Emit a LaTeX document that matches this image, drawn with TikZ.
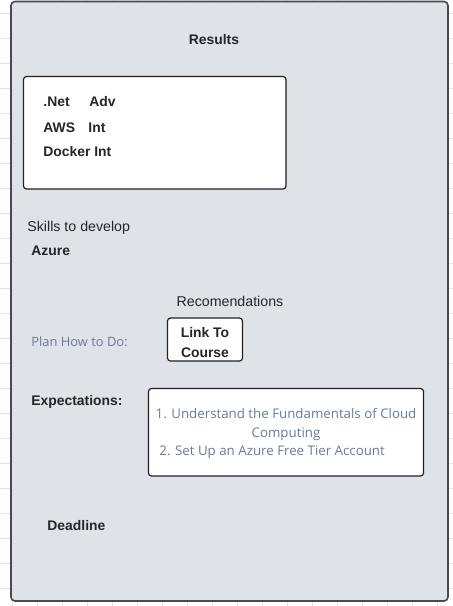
\documentclass[tikz,border=0pt]{standalone}
\usepackage{fontspec}
\setmainfont{Liberation Sans}
\newfontfamily\notefont{Open Sans}
\newlength{\du}
\setlength{\du}{1pt}
\definecolor{gridcolor}{rgb}{0.900000, 0.900000, 0.900000}
\definecolor{panelcolor}{rgb}{0.874000, 0.886000, 0.906000}
\definecolor{panelline}{rgb}{0.290000, 0.290000, 0.300000}
\definecolor{boxline}{rgb}{0.130000, 0.130000, 0.140000}
\definecolor{textcolor}{rgb}{0.150000, 0.150000, 0.160000}
\definecolor{slatecolor}{rgb}{0.420000, 0.480000, 0.600000}
\tikzset{
  lbl/.style={inner sep=0pt, text=textcolor, font=\fontsize{14.2}{17}\selectfont},
  boldlbl/.style={lbl, font=\fontsize{13.9}{16}\selectfont\bfseries},
  notelbl/.style={lbl, text=slatecolor, font=\notefont\fontsize{13.3}{16}\selectfont},
  whitebox/.style={draw=boxline, fill=white, line width=1.2\du, rounded corners=3\du}
}
\begin{document}
\begin{tikzpicture}
\pgftransformxscale{1.000000}
\pgftransformyscale{-1.000000}
\useasboundingbox (0\du,0\du) rectangle (453\du,606\du);
% background grid
\pgfsetlinewidth{0.800000\du}
\foreach \gy in {13,38,...,613}
  \draw[gridcolor] (0\du,\gy\du)--(453\du,\gy\du);
\foreach \gx in {12,37,...,462}
  \draw[gridcolor] (\gx\du,0\du)--(\gx\du,606\du);
% main panel
\draw[draw=panelline, fill=panelcolor, line width=1.6\du, rounded corners=4\du] (11.000000\du,1.500000\du) rectangle (448.000000\du,601.000000\du);
% results
\node[boldlbl, anchor=base] (results) at (214.000000\du,44.000000\du){Results};
\draw[whitebox] (23.500000\du,76.500000\du) rectangle (286.000000\du,189.000000\du);
\node[boldlbl, anchor=base west] (net) at (43.000000\du,106.000000\du){.Net};
\node[boldlbl, anchor=base west] (netlvl) at (89.000000\du,106.000000\du){Adv};
\node[boldlbl, anchor=base west] (aws) at (43.000000\du,132.000000\du){AWS};
\node[boldlbl, anchor=base west] (awslvl) at (88.000000\du,132.000000\du){Int};
\node[boldlbl, anchor=base west] (docker) at (43.000000\du,156.000000\du){Docker Int};
% skills
\node[lbl, anchor=base west] (skills) at (27.000000\du,231.000000\du){Skills to develop};
\node[boldlbl, anchor=base west] (azure) at (31.000000\du,255.000000\du){Azure};
% recomendations
\node[lbl, anchor=base] (recs) at (230.000000\du,306.000000\du){Recomendations};
\node[notelbl, anchor=base west, font=\notefont\fontsize{12.9}{15}\selectfont] (plan) at (31.000000\du,346.000000\du){Plan How to Do:};
\draw[whitebox] (167.500000\du,318.000000\du) rectangle (242.500000\du,361.000000\du);
\node[boldlbl, anchor=base] (link) at (205.000000\du,337.000000\du){Link To};
\node[boldlbl, anchor=base] (course) at (205.000000\du,357.000000\du){Course};
% expectations
\node[boldlbl, anchor=base west] (expect) at (31.000000\du,405.000000\du){Expectations:};
\draw[whitebox] (148.500000\du,388.500000\du) rectangle (423.500000\du,476.000000\du);
\node[notelbl, anchor=base] (stepone) at (286.000000\du,418.000000\du){1. Understand the Fundamentals of Cloud};
\node[notelbl, anchor=base] (steponeb) at (286.000000\du,437.000000\du){Computing};
\node[notelbl, anchor=base west] (steptwo) at (159.000000\du,455.000000\du){2. Set Up an Azure Free Tier Account};
% deadline
\node[boldlbl, anchor=base west] (deadline) at (47.000000\du,530.000000\du){Deadline};
\end{tikzpicture}
\end{document}
